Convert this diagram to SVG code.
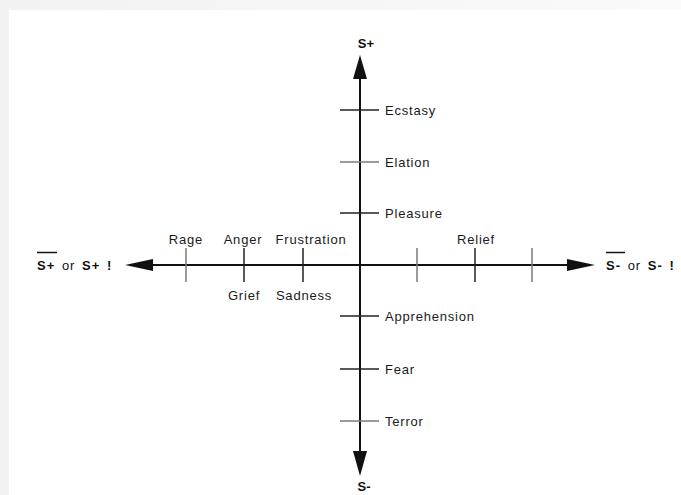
<svg xmlns="http://www.w3.org/2000/svg" width="681" height="495" viewBox="0 0 681 495">
  <defs>
    <linearGradient id="edgeLeft" x1="0" y1="0" x2="1" y2="0">
      <stop offset="0" stop-color="#f2f2f2"/>
      <stop offset="1" stop-color="#fafafa"/>
    </linearGradient>
    <style>
      .axis { stroke: #111; stroke-width: 2; fill: none; }
      .tick { stroke: #222; stroke-width: 1.5; }
      .tick.faint { stroke: #7a7a7a; }
      .head { fill: #111; }
      .lbl { font-family: "Liberation Sans", Arial, sans-serif; font-size: 13px; letter-spacing: 0.8px; fill: #1a1a1a; }
      .pole { font-family: "Liberation Sans", Arial, sans-serif; font-size: 13px; font-weight: bold; fill: #111; }
      .side { letter-spacing: 1px; word-spacing: 2px; }
      .or { font-weight: normal; }
      .bar { stroke: #111; stroke-width: 1.5; }
    </style>
  </defs>

  <!-- page backdrop and sheet -->
  <rect x="0" y="0" width="681" height="495" fill="url(#edgeLeft)"/>
  <rect x="9" y="10" width="672" height="485" fill="#ffffff"/>

  <!-- axes with arrowheads -->
  <g id="connectors">
    <line class="axis" x1="360" y1="72" x2="360" y2="458"/>
    <line class="axis" x1="148" y1="265" x2="572" y2="265"/>
    <polygon class="head" points="360,55 353,79 367,79"/>
    <polygon class="head" points="360,476 353,451 367,451"/>
    <polygon class="head" points="125,265 153,259 153,271"/>
    <polygon class="head" points="595,265 567,259 567,271"/>
  </g>

  <!-- pole labels -->
  <g id="pole-top"><text class="pole" x="366" y="48" text-anchor="middle">S+</text></g>
  <g id="pole-bottom"><text class="pole" x="364" y="491" text-anchor="middle">S-</text></g>
  <g id="pole-left">
    <line class="bar" x1="37" y1="252.5" x2="57" y2="252.5"/>
    <text class="pole side" x="37" y="270">S+ <tspan class="or">or</tspan> S+ !</text>
  </g>
  <g id="pole-right">
    <line class="bar" x1="606" y1="252.5" x2="625" y2="252.5"/>
    <text class="pole side" x="606" y="270">S- <tspan class="or">or</tspan> S- !</text>
  </g>

  <!-- vertical scale: positive -->
  <g id="ecstasy">
    <line class="tick" x1="340" y1="110" x2="379" y2="110"/>
    <text class="lbl" x="385" y="114.5">Ecstasy</text>
  </g>
  <g id="elation">
    <line class="tick faint" x1="340" y1="162" x2="379" y2="162"/>
    <text class="lbl" x="385" y="166.5">Elation</text>
  </g>
  <g id="pleasure">
    <line class="tick" x1="340" y1="213" x2="379" y2="213"/>
    <text class="lbl" x="385" y="217.5">Pleasure</text>
  </g>

  <!-- vertical scale: negative -->
  <g id="apprehension">
    <line class="tick" x1="340" y1="316" x2="379" y2="316"/>
    <text class="lbl" x="385" y="320.5">Apprehension</text>
  </g>
  <g id="fear">
    <line class="tick" x1="340" y1="369" x2="379" y2="369"/>
    <text class="lbl" x="385" y="373.5">Fear</text>
  </g>
  <g id="terror">
    <line class="tick faint" x1="340" y1="421" x2="379" y2="421"/>
    <text class="lbl" x="385" y="425.5">Terror</text>
  </g>

  <!-- horizontal scale: left -->
  <g id="rage">
    <line class="tick faint" x1="186" y1="248" x2="186" y2="282"/>
    <text class="lbl" x="186" y="244" text-anchor="middle">Rage</text>
  </g>
  <g id="anger-grief">
    <line class="tick" x1="244" y1="248" x2="244" y2="282"/>
    <text class="lbl" x="243" y="244" text-anchor="middle">Anger</text>
    <text class="lbl" x="244" y="300" text-anchor="middle">Grief</text>
  </g>
  <g id="frustration-sadness">
    <line class="tick" x1="303" y1="248" x2="303" y2="282"/>
    <text class="lbl" x="311" y="244" text-anchor="middle">Frustration</text>
    <text class="lbl" x="304" y="300" text-anchor="middle">Sadness</text>
  </g>

  <!-- horizontal scale: right -->
  <g id="tick-right-1">
    <line class="tick faint" x1="417" y1="248" x2="417" y2="282"/>
  </g>
  <g id="relief">
    <line class="tick" x1="475" y1="248" x2="475" y2="282"/>
    <text class="lbl" x="476" y="244" text-anchor="middle">Relief</text>
  </g>
  <g id="tick-right-3">
    <line class="tick faint" x1="532" y1="248" x2="532" y2="282"/>
  </g>
</svg>
